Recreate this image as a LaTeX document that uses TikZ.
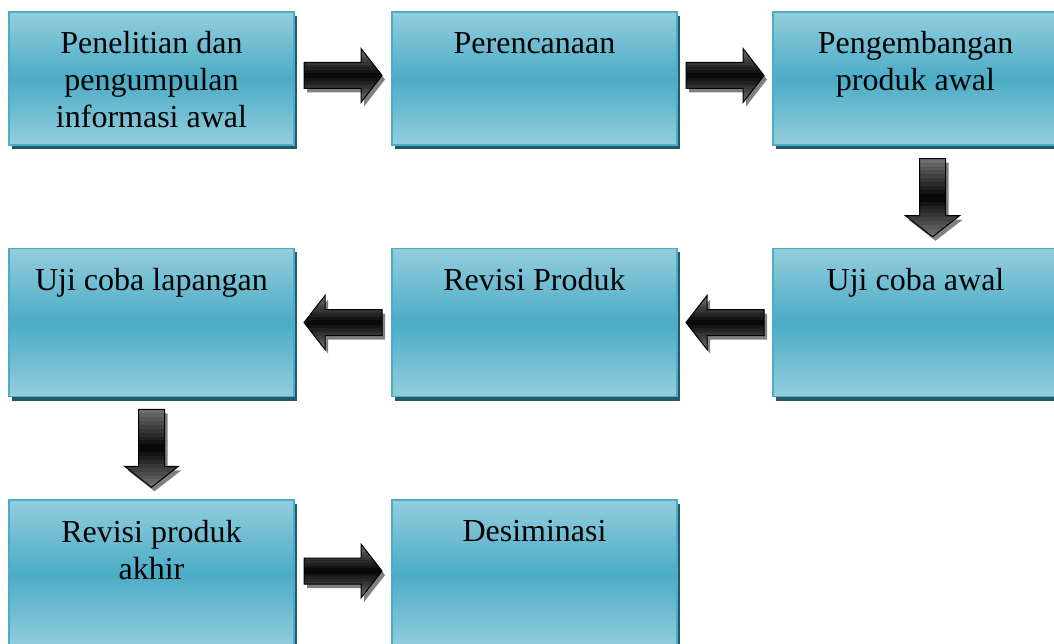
\documentclass[tikz,border=0pt]{standalone}
\usepackage{fontspec}
\setmainfont{Liberation Serif}
\usetikzlibrary{shadows,calc}
\definecolor{boxlight}{RGB}{147,205,221}
\definecolor{boxmid}{RGB}{75,172,198}
\definecolor{boxborder}{RGB}{75,172,198}
\definecolor{boxshadow}{RGB}{36,89,104}
\definecolor{arrowedge}{RGB}{110,110,110}
\definecolor{arrowcore}{RGB}{4,4,4}
\definecolor{arrowline}{RGB}{0,0,0}
\definecolor{arrowshade}{RGB}{128,128,128}
\tikzset{
  stepbox/.style={rectangle, draw=boxborder, line width=1.6pt, inner sep=0pt, outer sep=0pt,
    minimum width=285pt, top color=boxlight, bottom color=boxlight, middle color=boxmid,
    drop shadow={shadow xshift=3pt, shadow yshift=-4pt, fill=boxshadow, opacity=1}},
  rowA/.style={stepbox, minimum height=133pt},
  rowB/.style={stepbox, minimum height=148pt},
  boxtext/.style={anchor=north, inner sep=0pt, align=center,
    font=\fontsize{32}{37}\selectfont, text=black},
  arrowoutline/.style={draw=arrowline, line width=1pt, line join=miter},
  arrowshadow/.style={fill=arrowshade},
}
% offsets in canvas pt (y upward) from a named centre coordinate
\newcommand\arrowRpath[1]{($(#1)+(-39pt,13pt)$) -- ($(#1)+(18pt,13pt)$) -- ($(#1)+(18pt,27pt)$) -- ($(#1)+(39pt,0pt)$) -- ($(#1)+(18pt,-27pt)$) -- ($(#1)+(18pt,-13pt)$) -- ($(#1)+(-39pt,-13pt)$) -- cycle}
\newcommand\arrowLpath[1]{($(#1)+(39pt,13pt)$) -- ($(#1)+(-18pt,13pt)$) -- ($(#1)+(-18pt,27pt)$) -- ($(#1)+(-39pt,0pt)$) -- ($(#1)+(-18pt,-27pt)$) -- ($(#1)+(-18pt,-13pt)$) -- ($(#1)+(39pt,-13pt)$) -- cycle}
\newcommand\arrowDpath[1]{($(#1)+(-13pt,39pt)$) -- ($(#1)+(-13pt,-18pt)$) -- ($(#1)+(-27pt,-18pt)$) -- ($(#1)+(0pt,-39pt)$) -- ($(#1)+(27pt,-18pt)$) -- ($(#1)+(13pt,-18pt)$) -- ($(#1)+(13pt,39pt)$) -- cycle}
% #1 centre coordinate, #2 path macro, #3 half of the vertical extent (pt)
\newcommand\blockarrow[3]{%
  \coordinate (#1s) at ($(#1)+(3,4)$);
  \fill[arrowshadow] #2{#1s};
  \begin{scope}
    \clip #2{#1};
    \foreach \k in {0,...,19} {
      \pgfmathsetmacro\yA{-#3+\k*#3/10}
      \pgfmathsetmacro\yB{\yA+#3/10+0.4}
      \pgfmathtruncatemacro\mix{abs(\k-9.5)/9.5*100}
      \fill[color=arrowedge!\mix!arrowcore] ($(#1)+(-41pt,\yA pt)$) rectangle ($(#1)+(41pt,\yB pt)$);
    }
  \end{scope}
  \draw[arrowoutline] #2{#1};}
\begin{document}
\begin{tikzpicture}[x=1pt, y=-1pt]
\useasboundingbox (0,0) rectangle (1054,644);
% row 1
\node[rowA] (b1) at (151.5,78.5) {};
\node[rowA] (b2) at (534.5,78.5) {};
\node[rowA] (b3) at (915.5,78.5) {};
% row 2
\node[rowB] (b4) at (151.5,322.5) {};
\node[rowB] (b5) at (534.5,322.5) {};
\node[rowB] (b6) at (915.5,322.5) {};
% row 3
\node[rowB] (b7) at (151.5,574) {};
\node[rowB] (b8) at (534.5,574) {};
% texts
\node[boxtext] (t1) at ($(b1.north)+(0,19)$) {Penelitian dan\\pengumpulan\\informasi awal};
\node[boxtext] (t2) at ($(b2.north)+(0,20)$) {Perencanaan};
\node[boxtext] (t3) at ($(b3.north)+(0,19)$) {Pengembangan\\produk awal};
\node[boxtext] (t4) at ($(b4.north)+(0,20)$) {Uji coba lapangan};
\node[boxtext] (t5) at ($(b5.north)+(0,20)$) {Revisi Produk};
\node[boxtext] (t6) at ($(b6.north)+(0,20)$) {Uji coba awal};
\node[boxtext] (t7) at ($(b7.north)+(0,20)$) {Revisi produk\\akhir};
\node[boxtext] (t8) at ($(b8.north)+(0,20)$) {Desiminasi};
% arrow anchors
\coordinate (a12) at ($($(b1.east)!.5!(b2.west)$)+(0,-3)$);
\coordinate (a23) at ($($(b2.east)!.5!(b3.west)$)+(0,-3)$);
\coordinate (a36) at ($($(b3.south)!.5!(b6.north)$)+(17,1)$);
\coordinate (a65) at ($(b6.west)!.5!(b5.east)$);
\coordinate (a54) at ($(b5.west)!.5!(b4.east)$);
\coordinate (a47) at ($(b4.south)!.5!(b7.north)$);
\coordinate (a78) at ($($(b7.east)!.5!(b8.west)$)+(0,-3)$);
\blockarrow{a12}{\arrowRpath}{27}
\blockarrow{a23}{\arrowRpath}{27}
\blockarrow{a36}{\arrowDpath}{39}
\blockarrow{a65}{\arrowLpath}{27}
\blockarrow{a54}{\arrowLpath}{27}
\blockarrow{a47}{\arrowDpath}{39}
\blockarrow{a78}{\arrowRpath}{27}
\end{tikzpicture}
\end{document}
